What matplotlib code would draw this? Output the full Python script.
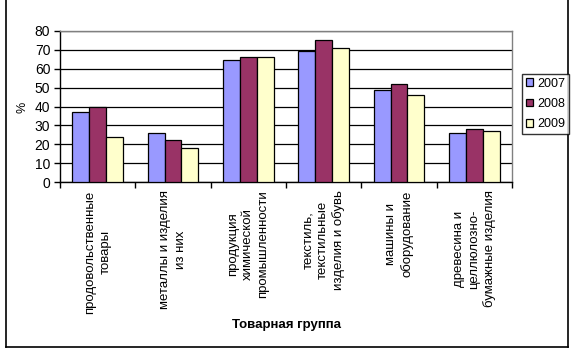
import matplotlib
matplotlib.use("Agg")
import matplotlib.pyplot as plt
import numpy as np
from matplotlib.lines import Line2D

plt.rcParams['font.family'] = ['Liberation Sans', 'DejaVu Sans']

categories = [
    "продовольственные\nтовары",
    "металлы и изделия\nиз них",
    "продукция\nхимической\nпромышленности",
    "текстиль,\nтекстильные\nизделия и обувь",
    "машины и\nоборудование",
    "древесина и\nцеллюлозно-\nбумажные изделия",
]
years = ["2007", "2008", "2009"]
v2007 = [37, 26, 64.5, 69.5, 49, 26]
v2008 = [40, 22, 66, 75, 52, 28]
v2009 = [24, 18, 66, 71, 46, 27]
yticks = [0, 10, 20, 30, 40, 50, 60, 70, 80]
colors = ["#9999FF", "#993366", "#FFFFCC"]

fig = plt.figure(figsize=(5.76, 3.53), dpi=100)
ax = fig.add_axes([60/576, 1-182/353, 452/576, 151/353])

x = np.arange(len(categories))
w = 0.225
for i, (vals, lab) in enumerate(zip([v2007, v2008, v2009], years)):
    ax.bar(x + (i-1)*w, vals, width=w, color=colors[i], edgecolor='black',
           linewidth=0.9, label=lab, zorder=3)

ax.set_xlim(-0.5, len(categories)-0.5)
ax.set_ylim(0, 80)
ax.set_yticks(yticks)
ax.set_yticklabels([str(t) for t in yticks], fontsize=10)
ax.yaxis.grid(True, color='black', linewidth=0.9, zorder=0)
ax.set_axisbelow(True)

ax.set_xticks(x)
ax.set_xticklabels(categories, rotation=90, fontsize=9.5, va='top', ha='center',
                   multialignment='center', linespacing=1.35)
ax.tick_params(axis='x', which='major', length=0, pad=6)
ax.set_xticks(np.arange(-0.5, len(categories)), minor=True)
ax.tick_params(axis='x', which='minor', length=4, width=1, direction='out')
ax.tick_params(axis='y', length=4, width=1, direction='out', pad=3)

for s in ['left', 'bottom']:
    ax.spines[s].set_color('black')
    ax.spines[s].set_linewidth(1)
for s in ['top', 'right']:
    ax.spines[s].set_color('#808080')
    ax.spines[s].set_linewidth(1)

fig.text(23/576, 1-107/353, "%", rotation=90, fontsize=9, ha='center', va='center')
fig.text(287/576, 1-325/353, "Товарная группа", fontsize=9.5, fontweight='bold',
         ha='center', va='center')

leg = fig.legend(loc='upper left', bbox_to_anchor=(522/576, 1-74/353), fontsize=9,
                 frameon=True, fancybox=False, edgecolor='black', handlelength=0.6,
                 handleheight=0.6, handletextpad=0.3, borderpad=0.3, labelspacing=0.65,
                 borderaxespad=0)
leg.get_frame().set_linewidth(1)

fig.add_artist(Line2D([6/576, 568/576], [1-347/353, 1-347/353], color='black', lw=1.2, transform=fig.transFigure))
fig.add_artist(Line2D([568/576, 568/576], [1-347/353, 1], color='black', lw=1.2, transform=fig.transFigure))
fig.add_artist(Line2D([6/576, 6/576], [1-347/353, 1], color='black', lw=1.2, transform=fig.transFigure))

fig.savefig("out.png", dpi=100)
